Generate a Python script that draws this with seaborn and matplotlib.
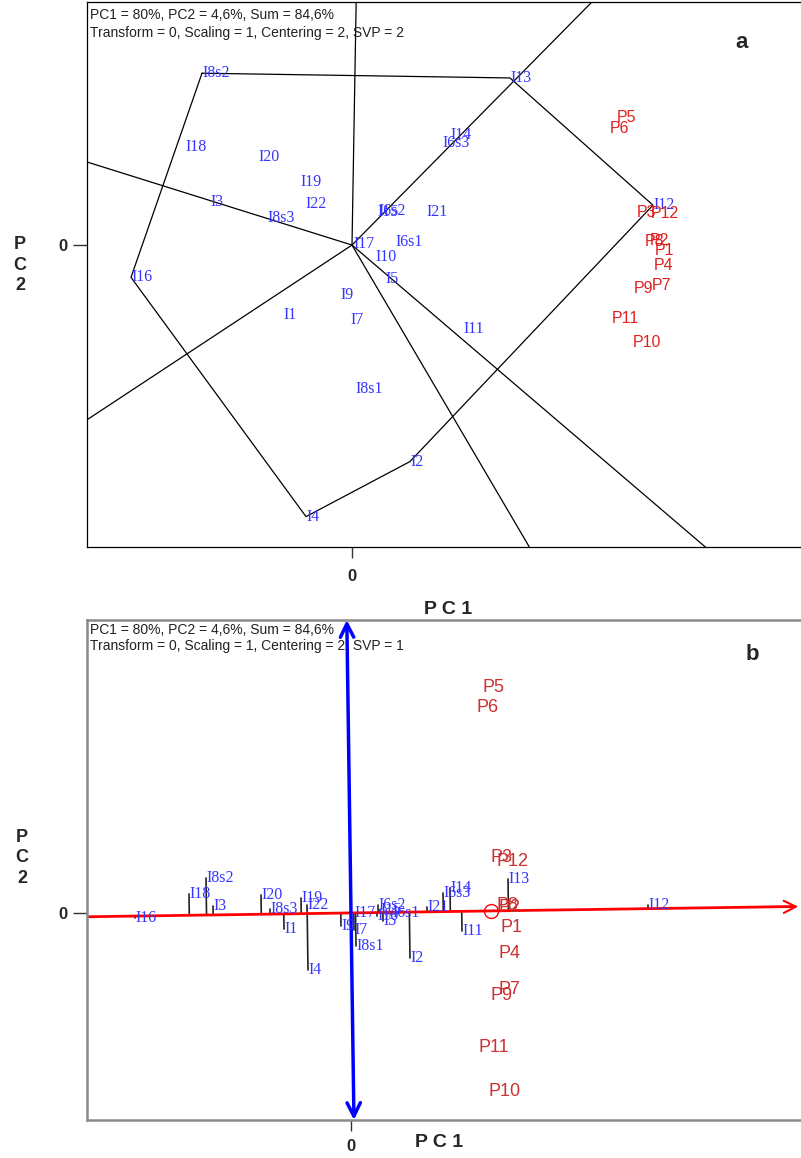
import numpy as np
import pandas as pd
import matplotlib
matplotlib.use("Agg")
import matplotlib.pyplot as plt
import seaborn as sns

# genotypes (blue) and environments (red)
genotypes = ["I1", "I2", "I3", "I4", "I5", "I6s1", "I6s2", "I6s3", "I7", "I8s1",
             "I8s2", "I8s3", "I9", "I10", "I11", "I12", "I13", "I14", "I15", "I16",
             "I17", "I18", "I19", "I20", "I21", "I22"]
# panel a scores (SVP = 2)
a_gx = [-0.69, 0.58, -1.42, -0.46, 0.33, 0.43, 0.26, 0.90, -0.02, 0.03,
        -1.50, -0.85, -0.12, 0.23, 1.11, 3.01, 1.58, 0.98, 0.25, -2.21,
        0.01, -1.67, -0.52, -0.94, 0.74, -0.47]
a_gy = [-0.74, -2.28, 0.45, -2.86, -0.36, 0.03, 0.36, 1.07, -0.79, -1.52,
        1.81, 0.28, -0.53, -0.13, -0.88, 0.42, 1.76, 1.16, 0.35, -0.34,
        0.01, 1.03, 0.66, 0.93, 0.35, 0.43]
# panel b scores (SVP = 1)
b_gx = [-0.67, 0.59, -1.38, -0.43, 0.32, 0.41, 0.27, 0.92, 0.03, 0.05,
        -1.45, -0.81, -0.10, 0.26, 1.11, 2.97, 1.57, 0.99, 0.29, -2.16,
        0.03, -1.62, -0.50, -0.90, 0.76, -0.44]
b_gy = [-0.16, -0.45, 0.07, -0.57, -0.08, 0.00, 0.08, 0.20, -0.17, -0.33,
        0.35, 0.04, -0.13, -0.03, -0.18, 0.08, 0.34, 0.25, 0.03, -0.05,
        0.00, 0.19, 0.15, 0.18, 0.06, 0.08]

environments = ["P1", "P2", "P3", "P4", "P5", "P6", "P7", "P8", "P9", "P10", "P11", "P12"]
a_ex = [3.03, 2.98, 2.85, 3.02, 2.65, 2.58, 3.00, 2.93, 2.82, 2.81, 2.60, 2.99]
a_ey = [-0.06, 0.05, 0.34, -0.22, 1.34, 1.23, -0.43, 0.04, -0.46, -1.03, -0.77, 0.33]
b_ex = [1.49, 1.48, 1.39, 1.48, 1.31, 1.26, 1.47, 1.45, 1.39, 1.37, 1.27, 1.46]
b_ey = [-0.14, 0.06, 0.55, -0.41, 2.25, 2.06, -0.76, 0.07, -0.82, -1.79, -1.34, 0.51]

# polygon vertices (which-won-where)
hull = ["I8s2", "I13", "I12", "I2", "I4", "I16"]

info1 = "PC1 = 80%, PC2 = 4,6%, Sum = 84,6%"
info_a = "Transform = 0, Scaling = 1, Centering = 2, SVP = 2"
info_b = "Transform = 0, Scaling = 1, Centering = 2, SVP = 1"

gen_a = pd.DataFrame({"name": genotypes, "x": a_gx, "y": a_gy})
gen_b = pd.DataFrame({"name": genotypes, "x": b_gx, "y": b_gy})
env_a = pd.DataFrame({"name": environments, "x": a_ex, "y": a_ey})
env_b = pd.DataFrame({"name": environments, "x": b_ex, "y": b_ey})

sns.set_theme(style="white")
plt.rcParams["font.family"] = ["Liberation Sans", "DejaVu Sans"]

BLUE = "#3535ff"
RED = "#e02020"
SERIF = ["Liberation Serif", "DejaVu Serif"]

fig = plt.figure(figsize=(8.01, 11.58), dpi=100)
ax_a = fig.add_axes([87 / 801, 1 - 547 / 1158, 714 / 801, 545 / 1158])
ax_b = fig.add_axes([87 / 801, 1 - 1120 / 1158, 714 / 801, 500 / 1158])


def ray_end(d, xlim, ylim):
    ts = []
    for v, lim in ((d[0], xlim), (d[1], ylim)):
        if v > 0:
            ts.append(lim[1] / v)
        elif v < 0:
            ts.append(lim[0] / v)
    return np.array(d) * min(ts)


def style_axes(ax, xlim, ylim, spine_col, spine_w):
    ax.set_xlim(xlim)
    ax.set_ylim(ylim)
    ax.set_xticks([0])
    ax.set_yticks([0])
    ax.set_xticklabels(["0"], fontweight="bold", fontsize=12)
    ax.set_yticklabels(["0"], fontweight="bold", fontsize=12)
    ax.tick_params(axis="x", length=8, width=1, pad=8, color="#333333", bottom=True)
    ax.tick_params(axis="y", length=10, width=1, pad=4, color="#333333", left=True)
    for s in ["left", "top", "bottom"]:
        ax.spines[s].set_color(spine_col)
        ax.spines[s].set_linewidth(spine_w)
    ax.spines["right"].set_visible(False)
    ax.set_xlabel("P C 1", fontweight="bold", fontsize=14)
    ax.set_ylabel("P\nC\n2", fontweight="bold", fontsize=13, rotation=0,
                  ha="center", va="center", linespacing=1.25)


# ---------- panel a : which-won-where polygon ----------
xl_a, yl_a = (-2.65, 4.49), (-3.18, 2.56)
style_axes(ax_a, xl_a, yl_a, "black", 0.9)
ax_a.xaxis.set_label_coords(0.505, -0.099)
ax_a.yaxis.set_label_coords(-0.094, 0.517)

poly = gen_a.set_index("name").loc[hull + [hull[0]]].reset_index()
sns.lineplot(data=poly, x="x", y="y", sort=False, estimator=None,
             color="black", lw=0.9, ax=ax_a)
pts = poly[["x", "y"]].to_numpy()
for p, q in zip(pts[:-1], pts[1:]):
    e = q - p
    n = np.array([e[1], -e[0]])
    if np.dot(n, p) < 0:
        n = -n
    end = ray_end(n, xl_a, yl_a)
    ax_a.plot([0, end[0]], [0, end[1]], color="black", lw=0.9)

for _, r in gen_a.iterrows():
    ax_a.text(r.x, r.y, r["name"], color=BLUE, fontsize=11.5, ha="left", va="center",
              family=SERIF)
for _, r in env_a.iterrows():
    ax_a.text(r.x, r.y, r["name"], color=RED, fontsize=11.5, ha="left", va="center")

fig.text(90 / 801, 1 - 15 / 1158, info1, fontsize=10, color="#222222", va="center")
fig.text(90 / 801, 1 - 33 / 1158, info_a, fontsize=10, color="#222222", va="center")
fig.text(742 / 801, 1 - 42 / 1158, "a", fontsize=16, fontweight="bold", ha="center", va="center")

# ---------- panel b : mean vs stability ----------
xl_b, yl_b = (-2.64, 4.50), (-2.07, 2.93)
style_axes(ax_b, xl_b, yl_b, "#8a8a8a", 1.8)
ax_b.tick_params(axis="x", pad=6)
ax_b.xaxis.set_label_coords(0.493, -0.028)
ax_b.yaxis.set_label_coords(-0.091, 0.524)

aec = env_b[["x", "y"]].mean().to_numpy()
u = aec / np.linalg.norm(aec)
perp = np.array([-u[1], u[0]])

for _, r in gen_b.iterrows():
    p = np.array([r.x, r.y])
    f = np.dot(p, u) * u
    ax_b.plot([p[0], f[0]], [p[1], f[1]], color="#222222", lw=1.2)

left_end = ray_end(-u, xl_b, yl_b)
right_end = ray_end(u, xl_b, yl_b)
ax_b.plot([left_end[0], right_end[0] - 0.1], [left_end[1], right_end[1]], color="red", lw=2)
ax_b.annotate("", xy=right_end, xytext=right_end - 0.3 * u,
              arrowprops=dict(arrowstyle="->", color="red", lw=1.5, mutation_scale=22))
top_end = ray_end(perp, xl_b, yl_b)
bot_end = ray_end(-perp, xl_b, yl_b)
ax_b.annotate("", xy=top_end, xytext=bot_end,
              arrowprops=dict(arrowstyle="<->", color="#0000ff", lw=2.5, mutation_scale=24,
                              shrinkA=0, shrinkB=0))
ax_b.plot([aec[0]], [aec[1]], marker="o", ms=10, mfc="none", mec="red", mew=1)

for _, r in gen_b.iterrows():
    ax_b.text(r.x, r.y, r["name"], color=BLUE, fontsize=11.5, ha="left", va="center",
              family=SERIF)
for _, r in env_b.iterrows():
    ax_b.text(r.x, r.y, r["name"], color="#cc3030", fontsize=13, ha="left", va="center")

fig.text(90 / 801, 1 - 630 / 1158, info1, fontsize=10, color="#222222", va="center")
fig.text(90 / 801, 1 - 646 / 1158, info_b, fontsize=10, color="#222222", va="center")
fig.text(752 / 801, 1 - 655 / 1158, "b", fontsize=16, fontweight="bold", ha="center", va="center")

fig.savefig("out.png", dpi=100)
